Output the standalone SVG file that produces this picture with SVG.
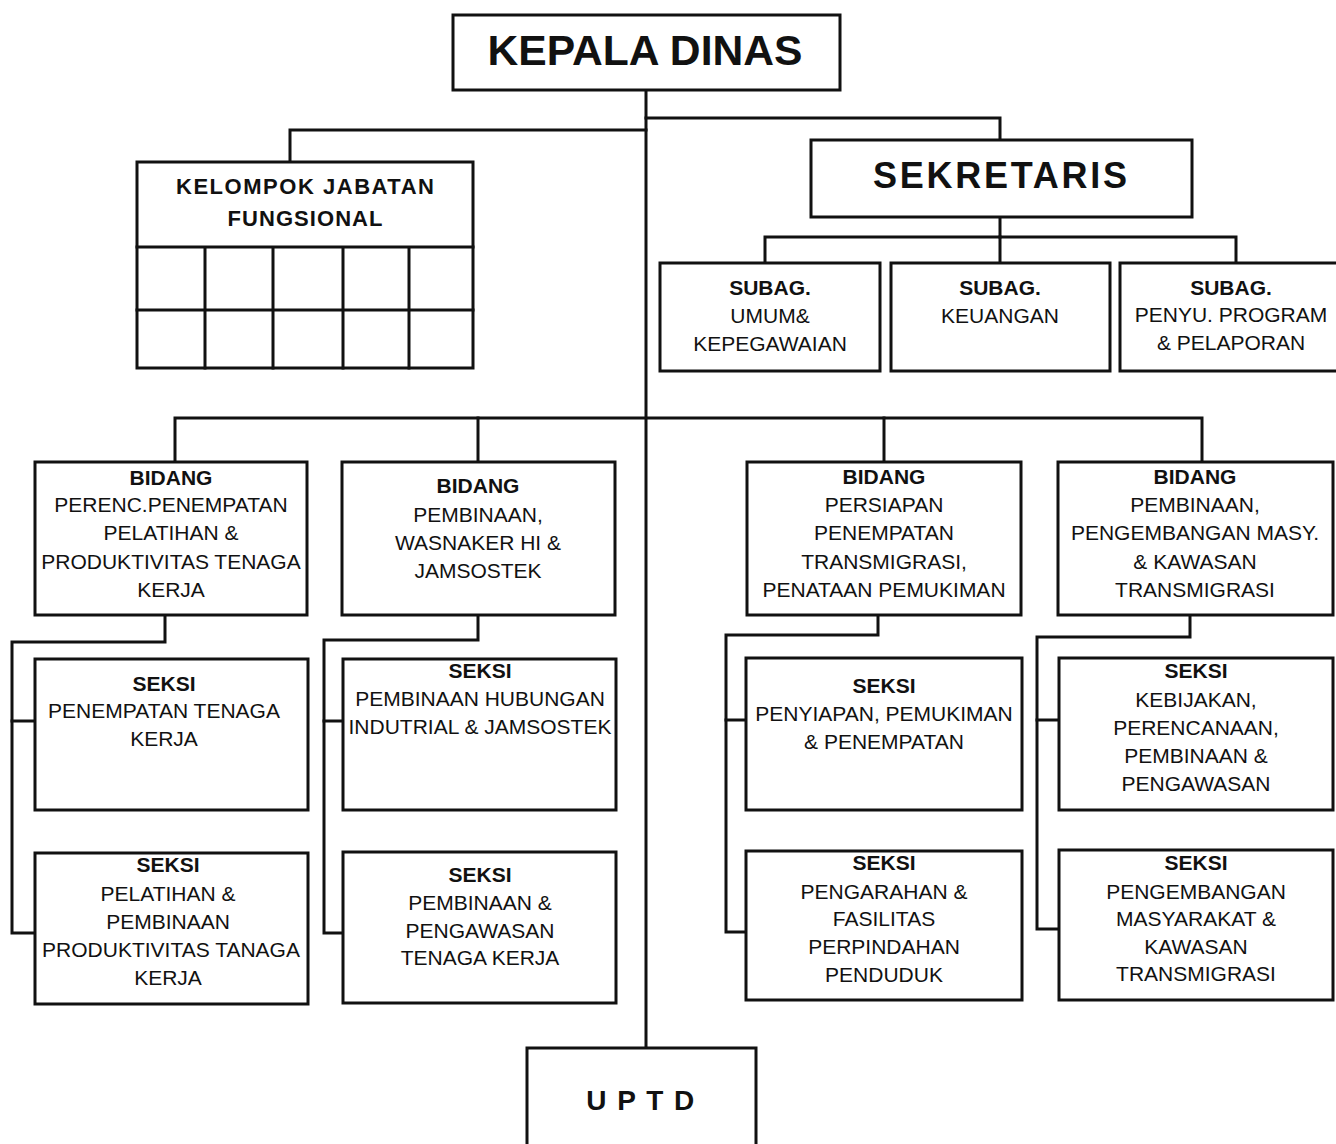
<svg xmlns="http://www.w3.org/2000/svg" width="1336" height="1144" viewBox="0 0 1336 1144">
  <style>
    .box { fill: #ffffff; stroke: #111111; stroke-width: 3; }
    .ln { fill: none; stroke: #111111; stroke-width: 3; stroke-linecap: square; }
    text { font-family: "Liberation Sans", Arial, Helvetica, sans-serif; fill: #111111; text-anchor: middle; font-size: 21px; }
    .b { font-weight: bold; }
    .title { font-weight: bold; font-size: 42px; }
    .sek { font-weight: bold; font-size: 36px; }
    .kjf { font-weight: bold; font-size: 22px; }
    .uptd { font-weight: bold; font-size: 28px; letter-spacing: 1.5px; }
  </style>
  <rect width="1336" height="1144" fill="#ffffff"/>

  <!-- connectors -->
  <g id="connectors">
    <!-- main trunk -->
    <path class="ln" d="M646 90 V1048"/>
    <path class="ln" d="M646 130 H290 V162"/>
    <path class="ln" d="M646 118 H1000 V140"/>
    <!-- secretary to sub-sections -->
    <path class="ln" d="M1000 217 V237"/>
    <path class="ln" d="M765 263 V237 H1236 V263"/>
    <path class="ln" d="M1000 237 V263"/>
    <!-- divisions bus -->
    <path class="ln" d="M175 462 V418 H1202 V462"/>
    <path class="ln" d="M478 418 V462"/>
    <path class="ln" d="M884 418 V462"/>
    <!-- division 1 sections -->
    <path class="ln" d="M165 615 V642 H12 V933 H35"/>
    <path class="ln" d="M12 721 H35"/>
    <!-- division 2 sections -->
    <path class="ln" d="M478 615 V640 H324 V933 H343"/>
    <path class="ln" d="M324 721 H343"/>
    <!-- division 3 sections -->
    <path class="ln" d="M878 615 V635 H726 V932 H746"/>
    <path class="ln" d="M726 720 H746"/>
    <!-- division 4 sections -->
    <path class="ln" d="M1190 615 V637 H1037 V929 H1059"/>
    <path class="ln" d="M1037 720 H1059"/>
  </g>

  <g id="kepala-dinas">
    <rect class="box" x="453" y="15" width="387" height="75"/>
    <text class="title" x="645" y="65" textLength="315" lengthAdjust="spacingAndGlyphs">KEPALA DINAS</text>
  </g>

  <g id="kelompok-jabatan-fungsional">
    <rect class="box" x="137" y="162" width="336" height="206"/>
    <path class="ln" d="M137 247 H473 M137 310 H473 M205 247 V368 M273 247 V368 M343 247 V368 M409 247 V368"/>
    <text class="kjf" x="305" y="194" textLength="258">KELOMPOK JABATAN</text>
    <text class="kjf" x="305" y="226" textLength="155">FUNGSIONAL</text>
  </g>

  <g id="sekretaris">
    <rect class="box" x="811" y="140" width="381" height="77"/>
    <text class="sek" x="1000" y="188" textLength="254">SEKRETARIS</text>
  </g>

  <g id="subag-umum">
    <rect class="box" x="660" y="263" width="220" height="108"/>
    <text class="b" x="770" y="295">SUBAG.</text>
    <text x="770" y="323">UMUM&amp;</text>
    <text x="770" y="351">KEPEGAWAIAN</text>
  </g>

  <g id="subag-keuangan">
    <rect class="box" x="891" y="263" width="219" height="108"/>
    <text class="b" x="1000" y="295">SUBAG.</text>
    <text x="1000" y="323">KEUANGAN</text>
  </g>

  <g id="subag-program">
    <rect class="box" x="1120" y="263" width="222" height="108"/>
    <text class="b" x="1231" y="295">SUBAG.</text>
    <text x="1231" y="322">PENYU. PROGRAM</text>
    <text x="1231" y="350">&amp; PELAPORAN</text>
  </g>

  <g id="bidang-penempatan">
    <rect class="box" x="35" y="462" width="272" height="153"/>
    <text class="b" x="171" y="485">BIDANG</text>
    <text x="171" y="512">PERENC.PENEMPATAN</text>
    <text x="171" y="540">PELATIHAN &amp;</text>
    <text x="171" y="569">PRODUKTIVITAS TENAGA</text>
    <text x="171" y="597">KERJA</text>
  </g>

  <g id="bidang-wasnaker">
    <rect class="box" x="342" y="462" width="273" height="153"/>
    <text class="b" x="478" y="493">BIDANG</text>
    <text x="478" y="522">PEMBINAAN,</text>
    <text x="478" y="550">WASNAKER HI &amp;</text>
    <text x="478" y="578">JAMSOSTEK</text>
  </g>

  <g id="bidang-persiapan">
    <rect class="box" x="747" y="462" width="274" height="153"/>
    <text class="b" x="884" y="484">BIDANG</text>
    <text x="884" y="512">PERSIAPAN</text>
    <text x="884" y="540">PENEMPATAN</text>
    <text x="884" y="569">TRANSMIGRASI,</text>
    <text x="884" y="597">PENATAAN PEMUKIMAN</text>
  </g>

  <g id="bidang-pengembangan">
    <rect class="box" x="1058" y="462" width="275" height="153"/>
    <text class="b" x="1195" y="484">BIDANG</text>
    <text x="1195" y="512">PEMBINAAN,</text>
    <text x="1195" y="540">PENGEMBANGAN MASY.</text>
    <text x="1195" y="569">&amp; KAWASAN</text>
    <text x="1195" y="597">TRANSMIGRASI</text>
  </g>

  <g id="seksi-penempatan">
    <rect class="box" x="35" y="659" width="273" height="151"/>
    <text class="b" x="164" y="691">SEKSI</text>
    <text x="164" y="718">PENEMPATAN TENAGA</text>
    <text x="164" y="746">KERJA</text>
  </g>

  <g id="seksi-pelatihan">
    <rect class="box" x="35" y="853" width="273" height="151"/>
    <text class="b" x="168" y="872">SEKSI</text>
    <text x="168" y="901">PELATIHAN &amp;</text>
    <text x="168" y="929">PEMBINAAN</text>
    <text x="171" y="957">PRODUKTIVITAS TANAGA</text>
    <text x="168" y="985">KERJA</text>
  </g>

  <g id="seksi-hubungan-industrial">
    <rect class="box" x="343" y="659" width="273" height="151"/>
    <text class="b" x="480" y="678">SEKSI</text>
    <text x="480" y="706">PEMBINAAN HUBUNGAN</text>
    <text x="480" y="734">INDUTRIAL &amp; JAMSOSTEK</text>
  </g>

  <g id="seksi-pengawasan">
    <rect class="box" x="343" y="852" width="273" height="151"/>
    <text class="b" x="480" y="882">SEKSI</text>
    <text x="480" y="910">PEMBINAAN &amp;</text>
    <text x="480" y="938">PENGAWASAN</text>
    <text x="480" y="965">TENAGA KERJA</text>
  </g>

  <g id="seksi-penyiapan">
    <rect class="box" x="746" y="658" width="276" height="152"/>
    <text class="b" x="884" y="693">SEKSI</text>
    <text x="884" y="721">PENYIAPAN, PEMUKIMAN</text>
    <text x="884" y="749">&amp; PENEMPATAN</text>
  </g>

  <g id="seksi-pengarahan">
    <rect class="box" x="746" y="851" width="276" height="149"/>
    <text class="b" x="884" y="870">SEKSI</text>
    <text x="884" y="899">PENGARAHAN &amp;</text>
    <text x="884" y="926">FASILITAS</text>
    <text x="884" y="954">PERPINDAHAN</text>
    <text x="884" y="982">PENDUDUK</text>
  </g>

  <g id="seksi-kebijakan">
    <rect class="box" x="1059" y="658" width="274" height="152"/>
    <text class="b" x="1196" y="678">SEKSI</text>
    <text x="1196" y="707">KEBIJAKAN,</text>
    <text x="1196" y="735">PERENCANAAN,</text>
    <text x="1196" y="763">PEMBINAAN &amp;</text>
    <text x="1196" y="791">PENGAWASAN</text>
  </g>

  <g id="seksi-pengembangan-masyarakat">
    <rect class="box" x="1059" y="850" width="274" height="150"/>
    <text class="b" x="1196" y="870">SEKSI</text>
    <text x="1196" y="899">PENGEMBANGAN</text>
    <text x="1196" y="926">MASYARAKAT &amp;</text>
    <text x="1196" y="954">KAWASAN</text>
    <text x="1196" y="981">TRANSMIGRASI</text>
  </g>

  <g id="uptd">
    <rect class="box" x="527" y="1048" width="229" height="110"/>
    <text class="uptd" x="641" y="1110">U P T D</text>
  </g>
</svg>
